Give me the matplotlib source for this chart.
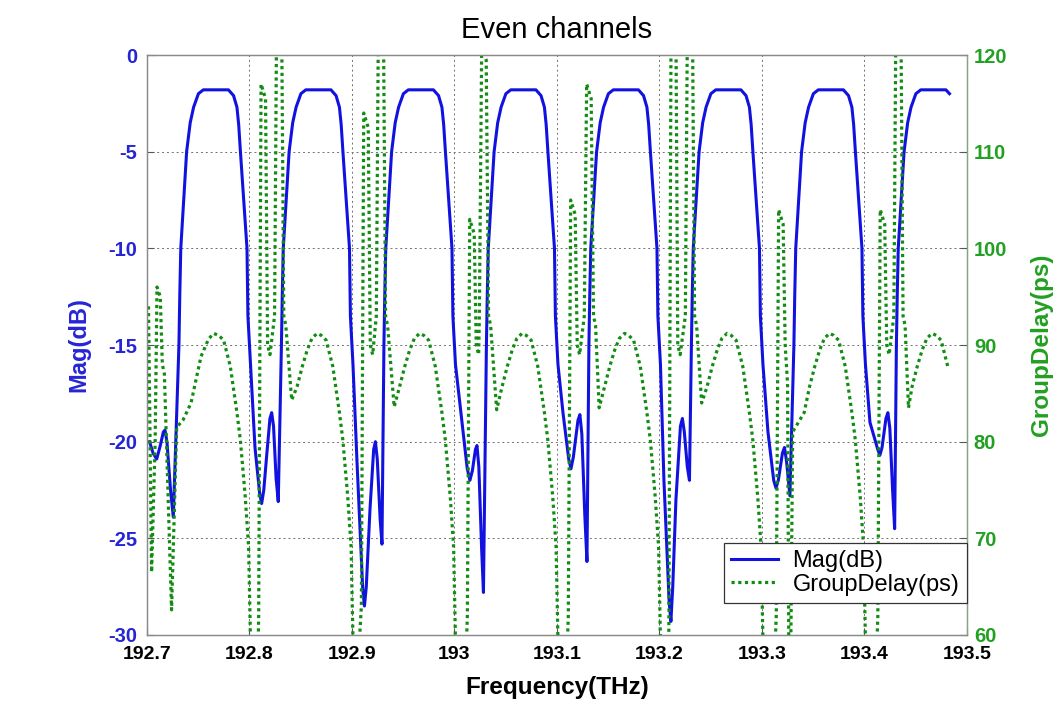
import matplotlib
matplotlib.use('Agg')
import matplotlib.pyplot as plt

# ---------------- data ----------------
title_text = "Even channels"
x_label = "Frequency(THz)"
y1_label = "Mag(dB)"
y2_label = "GroupDelay(ps)"

x_ticks = [192.7, 192.8, 192.9, 193.0, 193.1, 193.2, 193.3, 193.4, 193.5]
x_tick_labels = ["192.7", "192.8", "192.9", "193", "193.1", "193.2", "193.3", "193.4", "193.5"]
y1_ticks = [0, -5, -10, -15, -20, -25, -30]
y1_tick_labels = ["0", "-5", "-10", "-15", "-20", "-25", "-30"]
y2_ticks = [60, 70, 80, 90, 100, 110, 120]
y2_tick_labels = ["60", "70", "80", "90", "100", "110", "120"]

# Magnitude (dB) trace
mag_freq = [
    192.7025, 192.7060, 192.7095, 192.7130, 192.7160, 192.7176, 192.7195, 192.7230, 192.7257,
    192.7312, 192.7320, 192.7330, 192.7358, 192.7387, 192.7422, 192.7455, 192.7502, 192.7550, 192.7650,
    192.7795, 192.7845, 192.7878, 192.7895, 192.7912, 192.7944, 192.7976, 192.7985, 192.8010,
    192.8054, 192.8100, 192.8119, 192.8140, 192.8170, 192.8200, 192.8217, 192.8235, 192.8260, 192.8281,
    192.8312, 192.8320, 192.8330, 192.8358, 192.8387, 192.8422, 192.8455, 192.8502, 192.8550, 192.8650,
    192.8795, 192.8845, 192.8878, 192.8895, 192.8912, 192.8944, 192.8976, 192.8985, 192.9010,
    192.9049, 192.9105, 192.9122, 192.9140, 192.9176, 192.9212, 192.9229, 192.9247, 192.9275, 192.9293,
    192.9312, 192.9320, 192.9330, 192.9358, 192.9387, 192.9422, 192.9455, 192.9502, 192.9550, 192.9650,
    192.9795, 192.9845, 192.9878, 192.9895, 192.9912, 192.9944, 192.9976, 192.9985, 193.0010,
    193.0063, 193.0125, 193.0151, 193.0175, 193.0205, 193.0220, 193.0238, 193.0265, 193.0283,
    193.0312, 193.0320, 193.0330, 193.0358, 193.0387, 193.0422, 193.0455, 193.0502, 193.0550, 193.0650,
    193.0795, 193.0845, 193.0878, 193.0895, 193.0912, 193.0944, 193.0976, 193.0985, 193.1010,
    193.1059, 193.1115, 193.1137, 193.1160, 193.1205, 193.1224, 193.1243, 193.1272, 193.1293,
    193.1312, 193.1320, 193.1330, 193.1358, 193.1387, 193.1422, 193.1455, 193.1502, 193.1550, 193.1650,
    193.1795, 193.1845, 193.1878, 193.1895, 193.1912, 193.1944, 193.1976, 193.1985, 193.2010,
    193.2044, 193.2095, 193.2112, 193.2130, 193.2161, 193.2205, 193.2224, 193.2243, 193.2272, 193.2293,
    193.2312, 193.2320, 193.2330, 193.2358, 193.2387, 193.2422, 193.2455, 193.2502, 193.2550, 193.2650,
    193.2795, 193.2845, 193.2878, 193.2895, 193.2912, 193.2944, 193.2976, 193.2985, 193.3010,
    193.3059, 193.3115, 193.3137, 193.3160, 193.3200, 193.3220, 193.3240, 193.3273,
    193.3312, 193.3320, 193.3330, 193.3358, 193.3387, 193.3422, 193.3455, 193.3502, 193.3550, 193.3650,
    193.3795, 193.3845, 193.3878, 193.3895, 193.3912, 193.3944, 193.3976, 193.3985, 193.4010,
    193.4054, 193.4130, 193.4151, 193.4172, 193.4210, 193.4229, 193.4248, 193.4275, 193.4295,
    193.4312, 193.4320, 193.4330, 193.4358, 193.4387, 193.4422, 193.4455, 193.4502, 193.4550, 193.4650,
    193.4795, 193.4830,
]
mag_db = [
    -20.0, -20.6, -20.9, -20.2, -19.5, -19.4, -20.0, -22.5, -23.9,
    -15.0, -12.5, -10.0, -7.5, -5.0, -3.5, -2.7, -2.0, -1.8, -1.8,
    -1.8, -2.1, -2.7, -3.6, -5.0, -7.5, -10.0, -13.5, -16.0,
    -20.3, -22.7, -23.2, -22.5, -20.6, -18.8, -18.5, -19.2, -21.9, -23.1,
    -15.0, -12.5, -10.0, -7.5, -5.0, -3.5, -2.7, -2.0, -1.8, -1.8,
    -1.8, -2.1, -2.7, -3.6, -5.0, -7.5, -10.0, -13.5, -16.0,
    -21.0, -27.6, -28.5, -27.5, -23.5, -20.4, -20.0, -20.9, -24.0, -25.3,
    -15.0, -12.5, -10.0, -7.5, -5.0, -3.5, -2.7, -2.0, -1.8, -1.8,
    -1.8, -2.1, -2.7, -3.6, -5.0, -7.5, -10.0, -13.5, -16.0,
    -18.5, -21.4, -22.0, -21.5, -20.4, -20.2, -21.3, -25.5, -27.8,
    -15.0, -12.5, -10.0, -7.5, -5.0, -3.5, -2.7, -2.0, -1.8, -1.8,
    -1.8, -2.1, -2.7, -3.6, -5.0, -7.5, -10.0, -13.5, -16.0,
    -18.5, -20.9, -21.4, -20.8, -18.9, -18.6, -19.6, -23.8, -26.2,
    -15.0, -12.5, -10.0, -7.5, -5.0, -3.5, -2.7, -2.0, -1.8, -1.8,
    -1.8, -2.1, -2.7, -3.6, -5.0, -7.5, -10.0, -13.5, -16.0,
    -22.0, -28.3, -29.3, -27.5, -23.0, -19.2, -18.8, -19.5, -21.3, -22.0,
    -15.0, -12.5, -10.0, -7.5, -5.0, -3.5, -2.7, -2.0, -1.8, -1.8,
    -1.8, -2.1, -2.7, -3.6, -5.0, -7.5, -10.0, -13.5, -16.0,
    -19.5, -22.0, -22.4, -22.0, -20.6, -20.3, -21.0, -22.8,
    -15.0, -12.5, -10.0, -7.5, -5.0, -3.5, -2.7, -2.0, -1.8, -1.8,
    -1.8, -2.1, -2.7, -3.6, -5.0, -7.5, -10.0, -13.5, -16.0,
    -19.0, -20.4, -20.7, -20.3, -18.8, -18.5, -19.3, -22.5, -24.5,
    -15.0, -12.5, -10.0, -7.5, -5.0, -3.5, -2.7, -2.0, -1.8, -1.8,
    -1.8, -2.0,
]

# Group delay (ps) trace
gd_freq = [
    192.7015, 192.7045, 192.7080, 192.7098, 192.7130, 192.7150, 192.7170, 192.7240, 192.7290, 192.7350,
    192.7430, 192.7527, 192.7600, 192.7650, 192.7700,
    192.7748, 192.7813, 192.7878, 192.7911, 192.7959, 192.7992, 192.8008, 192.8025,
    192.8070, 192.8090, 192.8113, 192.8157, 192.8177, 192.8200, 192.8245, 192.8268, 192.8312, 192.8335, 192.8355,
    192.8412, 192.8465, 192.8516, 192.8564, 192.8610, 192.8660, 192.8700,
    192.8748, 192.8813, 192.8878, 192.8911, 192.8959, 192.8992, 192.9008, 192.9025,
    192.9060, 192.9092, 192.9115, 192.9159, 192.9179, 192.9202, 192.9238, 192.9261, 192.9305, 192.9328, 192.9348,
    192.9412, 192.9465, 192.9516, 192.9564, 192.9610, 192.9660, 192.9700,
    192.9748, 192.9813, 192.9878, 192.9911, 192.9959, 192.9992, 193.0008, 193.0025,
    193.0090, 193.0126, 193.0149, 193.0193, 193.0213, 193.0236, 193.0243, 193.0266, 193.0310, 193.0333, 193.0353,
    193.0412, 193.0465, 193.0516, 193.0564, 193.0610, 193.0660, 193.0700,
    193.0748, 193.0813, 193.0878, 193.0911, 193.0959, 193.0992, 193.1008, 193.1025,
    193.1075, 193.1111, 193.1134, 193.1178, 193.1198, 193.1221, 193.1267, 193.1290, 193.1334, 193.1357, 193.1377,
    193.1412, 193.1465, 193.1516, 193.1564, 193.1610, 193.1660, 193.1700,
    193.1748, 193.1813, 193.1878, 193.1911, 193.1959, 193.1992, 193.2008, 193.2025,
    193.2065, 193.2092, 193.2115, 193.2159, 193.2179, 193.2202, 193.2253, 193.2276, 193.2320, 193.2343, 193.2363,
    193.2412, 193.2465, 193.2516, 193.2564, 193.2610, 193.2660, 193.2700,
    193.2748, 193.2813, 193.2878, 193.2911, 193.2959, 193.2992, 193.3008, 193.3025,
    193.3095, 193.3140, 193.3163, 193.3207, 193.3227, 193.3250, 193.3262, 193.3282, 193.3300,
    193.3412, 193.3465, 193.3516, 193.3564, 193.3610, 193.3660, 193.3700,
    193.3748, 193.3813, 193.3878, 193.3911, 193.3959, 193.3992, 193.4008, 193.4025,
    193.4095, 193.4131, 193.4154, 193.4198, 193.4218, 193.4241, 193.4287, 193.4310, 193.4354, 193.4377, 193.4397,
    193.4430, 193.4465, 193.4516, 193.4564, 193.4610, 193.4660, 193.4700,
    193.4748, 193.4813,
]
gd_ps = [
    94.0, 66.5, 80.0, 96.0, 95.0, 88.0, 87.0, 62.6, 81.5, 82.2,
    84.0, 88.8, 90.6, 91.2, 91.0,
    90.5, 87.8, 83.0, 80.2, 74.3, 69.1, 60.5, 52.0,
    50.0, 62.0, 117.0, 115.5, 90.0, 89.0, 93.0, 128.0, 126.5, 93.0, 92.0,
    84.3, 85.7, 87.8, 89.5, 90.7, 91.2, 91.0,
    90.5, 87.8, 83.0, 80.2, 74.3, 69.1, 60.5, 52.0,
    57.0, 63.0, 114.0, 112.5, 90.0, 89.0, 93.0, 128.0, 126.5, 93.0, 92.0,
    83.6, 85.7, 87.8, 89.5, 90.7, 91.2, 91.0,
    90.5, 87.8, 83.0, 80.2, 74.3, 69.1, 60.5, 52.0,
    50.0, 62.0, 103.0, 101.5, 90.0, 89.0, 93.0, 121.0, 119.5, 93.0, 92.0,
    83.3, 85.7, 87.8, 89.5, 90.7, 91.2, 91.0,
    90.5, 87.8, 83.0, 80.2, 74.3, 69.1, 60.5, 52.0,
    50.0, 62.0, 105.0, 103.5, 90.0, 89.0, 93.0, 117.0, 115.5, 93.0, 92.0,
    83.5, 85.7, 87.8, 89.5, 90.7, 91.2, 91.0,
    90.5, 87.8, 83.0, 80.2, 74.3, 69.1, 60.5, 52.0,
    55.0, 60.5, 128.0, 126.5, 90.0, 89.0, 93.0, 128.0, 126.5, 93.0, 92.0,
    84.0, 85.7, 87.8, 89.5, 90.7, 91.2, 91.0,
    90.5, 87.8, 83.0, 80.2, 74.3, 69.1, 60.5, 52.0,
    50.0, 62.0, 104.0, 102.5, 90.0, 86.0, 59.0, 59.0, 81.0,
    83.0, 85.7, 87.8, 89.5, 90.7, 91.2, 91.0,
    90.5, 87.8, 83.0, 80.2, 74.3, 69.1, 60.5, 52.0,
    50.0, 62.0, 104.0, 102.5, 90.0, 89.0, 93.0, 128.0, 126.5, 93.0, 92.0,
    83.5, 85.7, 87.8, 89.5, 90.7, 91.2, 91.0,
    90.5, 87.8,
]

# ---------------- styling ----------------
plt.rcParams['font.family'] = ['Liberation Sans', 'DejaVu Sans']
BLUE = '#1212e0'
BLUE_TXT = '#2525d5'
GREEN = '#128c12'
GREEN_TXT = '#22a022'

fig = plt.figure(figsize=(10.58, 7.11), dpi=100)
ax1 = fig.add_axes([0.1389, 0.1069, 0.7750, 0.8157])
ax2 = ax1.twinx()

l1, = ax1.plot(mag_freq, mag_db, color=BLUE, lw=2.2, solid_joinstyle='round', label='Mag(dB)')
l2, = ax2.plot(gd_freq, gd_ps, color=GREEN, lw=2.3, linestyle=(0, (1, 1.1)),
               dash_capstyle='butt', label='GroupDelay(ps)')

ax1.set_xlim(192.7, 193.5)
ax1.set_ylim(-30, 0)
ax2.set_ylim(60, 120)

ax1.set_xticks(x_ticks)
ax1.set_xticklabels(x_tick_labels, fontsize=14, fontweight='bold', color='black')
ax1.set_yticks(y1_ticks)
ax1.set_yticklabels(y1_tick_labels, fontsize=14.5, fontweight='bold', color=BLUE_TXT)
ax2.set_yticks(y2_ticks)
ax2.set_yticklabels(y2_tick_labels, fontsize=14.5, fontweight='bold', color=GREEN_TXT)

ax1.tick_params(axis='both', direction='in', length=5, width=0.8, colors='#555555')
ax1.tick_params(axis='y', labelcolor=BLUE_TXT, pad=7)
ax1.tick_params(axis='x', labelcolor='black', pad=8)
ax2.tick_params(axis='y', direction='in', length=5, width=0.8, pad=5, colors='#555555', labelcolor=GREEN_TXT)

ax1.grid(True, linestyle=(0, (2, 3)), color='#707070', linewidth=0.7)

for sp in list(ax1.spines.values()) + list(ax2.spines.values()):
    sp.set_color('#8a8a8a')
    sp.set_linewidth(0.9)
ax1.spines['left'].set_color('#8080b0')
ax2.spines['right'].set_color('#80a880')

ax1.set_xlabel(x_label, fontsize=17.5, fontweight='bold', labelpad=9)
ax1.set_ylabel(y1_label, fontsize=17, fontweight='bold', color=BLUE_TXT, labelpad=13)
ax2.set_ylabel(y2_label, fontsize=17.5, fontweight='bold', color=GREEN_TXT, labelpad=16)
ax1.set_title(title_text, fontsize=21, pad=12)

leg = ax2.legend(handles=[l1, l2], loc='lower right', bbox_to_anchor=(1.0, 0.055),
                 fontsize=17, frameon=True, fancybox=False, framealpha=1,
                 edgecolor='#333333', borderaxespad=0, handlelength=2.0,
                 handletextpad=0.6, labelspacing=0.05, borderpad=0.32)
leg.get_frame().set_linewidth(0.9)

fig.savefig('out.png', dpi=100)
